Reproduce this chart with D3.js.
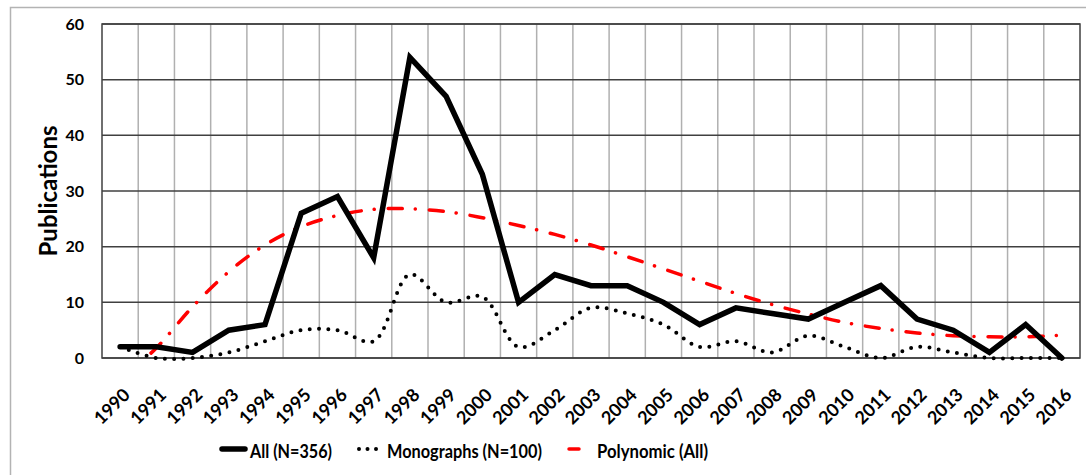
<!DOCTYPE html>
<meta charset="utf-8">
<script src="https://d3js.org/d3.v7.min.js"></script>
<style>
  body { margin: 0; background: #fff; }
  text { font-family: Lato, "Liberation Sans", sans-serif; font-weight: bold; fill: #000; }
</style>
<div id="chart"></div>
<script>
// data
var years = d3.range(1990, 2017);
var allPubs   = [2, 2, 1, 5, 6, 26, 29, 18, 54, 47, 33, 10, 15, 13, 13, 10, 6, 9, 8, 7, 10, 13, 7, 5, 1, 6, 0];
var monographs = [2, 0, 0, 1, 3, 5, 5, 3, 15, 10, 11, 2, 5, 9, 8, 6, 2, 3, 1, 4, 2, 0, 2, 1, 0, 0, 0];
var polyAll   = [-4, 1.8, 9.2, 15.5, 20.3, 23.6, 25.6, 26.7, 26.8, 26.3, 25.2, 23.8, 22.2, 20.3, 18.2, 16.0, 13.8, 11.6, 9.6, 7.9, 6.4, 5.3, 4.5, 4.0, 3.8, 3.8, 4.1];
var yTicks = [0, 10, 20, 30, 40, 50, 60];
var legendItems = ["All (N=356)", "Monographs (N=100)", "Polynomic (All)"];

var W = 1086, H = 475;
var plot = {left: 102, right: 1080, top: 24, bottom: 358};

var svg = d3.select("#chart").append("svg")
    .attr("width", W).attr("height", H);

// outer chart border
svg.append("rect")
    .attr("x", 10.5).attr("y", 7.5)
    .attr("width", 1100).attr("height", 500)
    .attr("fill", "none").attr("stroke", "#b3b3b3").attr("stroke-width", 1.5);

var x = d3.scaleBand().domain(years).range([plot.left, plot.right]).paddingInner(0).paddingOuter(0);
var y = d3.scaleLinear().domain([0, 60]).range([plot.bottom, plot.top]);
var cx = function(yr) { return x(yr) + x.bandwidth() / 2; };

// vertical gridlines (category boundaries)
svg.append("g").selectAll("line")
  .data(years.slice(1))
  .enter().append("line")
    .attr("x1", function(d) { return x(d); })
    .attr("x2", function(d) { return x(d); })
    .attr("y1", plot.top).attr("y2", plot.bottom)
    .attr("stroke", "#b0b0b0").attr("stroke-width", 1.5);

// horizontal gridlines
svg.append("g").selectAll("line")
  .data(yTicks)
  .enter().append("line")
    .attr("x1", plot.left).attr("x2", plot.right)
    .attr("y1", function(d) { return y(d); })
    .attr("y2", function(d) { return y(d); })
    .attr("stroke", "#404040").attr("stroke-width", 1.5);

// plot border
svg.append("rect")
    .attr("x", plot.left).attr("y", plot.top)
    .attr("width", plot.right - plot.left).attr("height", plot.bottom - plot.top)
    .attr("fill", "none").attr("stroke", "#404040").attr("stroke-width", 1.5);

// y tick labels
svg.append("g").selectAll("text")
  .data(yTicks)
  .enter().append("text")
    .attr("x", 84)
    .attr("y", function(d) { return y(d); })
    .attr("dy", "0.36em")
    .attr("text-anchor", "end")
    .style("font-size", "16px")
    .text(function(d) { return d; });

// y axis title
svg.append("text")
    .attr("transform", "translate(57," + ((plot.top + plot.bottom) / 2) + ") rotate(-90)")
    .attr("text-anchor", "middle")
    .style("font-size", "24px")
    .text("Publications");

// x tick labels, rotated
svg.append("g").selectAll("text")
  .data(years)
  .enter().append("text")
    .attr("transform", function(d) { return "translate(" + (cx(d) + 11) + ",396) rotate(-45)"; })
    .attr("text-anchor", "end")
    .style("font-size", "18px")
    .text(function(d) { return d; });

// clip for trendline
svg.append("clipPath").attr("id", "plotclip")
  .append("rect")
    .attr("x", plot.left).attr("y", plot.top)
    .attr("width", plot.right - plot.left).attr("height", plot.bottom - plot.top);

var straight = d3.line()
    .x(function(d, i) { return cx(years[i]); })
    .y(function(d) { return y(d); });
var smooth = d3.line()
    .x(function(d, i) { return cx(years[i]); })
    .y(function(d) { return y(d); })
    .curve(d3.curveCatmullRom.alpha(0.5));

// trend (dash-dot red)
svg.append("path")
    .datum(polyAll)
    .attr("clip-path", "url(#plotclip)")
    .attr("d", smooth)
    .attr("fill", "none")
    .attr("stroke", "#ff0000")
    .attr("stroke-width", 3.5)
    .attr("stroke-linecap", "round")
    .attr("stroke-dasharray", "14 13 0.1 14");

// monographs (dotted)
svg.append("path")
    .datum(monographs)
    .attr("d", smooth)
    .attr("fill", "none")
    .attr("stroke", "#000")
    .attr("stroke-width", 4)
    .attr("stroke-linecap", "round")
    .attr("stroke-dasharray", "0 9.3");

// all publications (thick)
svg.append("path")
    .datum(allPubs)
    .attr("d", straight)
    .attr("fill", "none")
    .attr("stroke", "#000")
    .attr("stroke-width", 5.5)
    .attr("stroke-linejoin", "miter")
    .attr("stroke-linecap", "round");

// legend
var legendX = [221, 358, 568];
var legendW = [82, 155, 111];
var legendY = 451;
var styles = [
  {color: "#000", width: 5.5, dash: null},
  {color: "#000", width: 4, dash: "0 8.5"},
  {color: "#ff0000", width: 3.5, dash: "10 13 0.1 12"}
];
var lg = svg.append("g").selectAll("g")
  .data(legendItems)
  .enter().append("g");
lg.append("line")
    .attr("x1", function(d, i) { return legendX[i] + 1; })
    .attr("x2", function(d, i) { return legendX[i] + 24; })
    .attr("y1", legendY - 2).attr("y2", legendY - 2)
    .attr("stroke", function(d, i) { return styles[i].color; })
    .attr("stroke-width", function(d, i) { return styles[i].width; })
    .attr("stroke-linecap", "round")
    .attr("stroke-dasharray", function(d, i) { return styles[i].dash; });
lg.append("text")
    .attr("x", function(d, i) { return legendX[i] + 29; })
    .attr("y", legendY)
    .attr("dy", "0.36em")
    .attr("textLength", function(d, i) { return legendW[i]; })
    .attr("lengthAdjust", "spacingAndGlyphs")
    .style("font-size", "19px")
    .text(function(d) { return d; });
</script>
